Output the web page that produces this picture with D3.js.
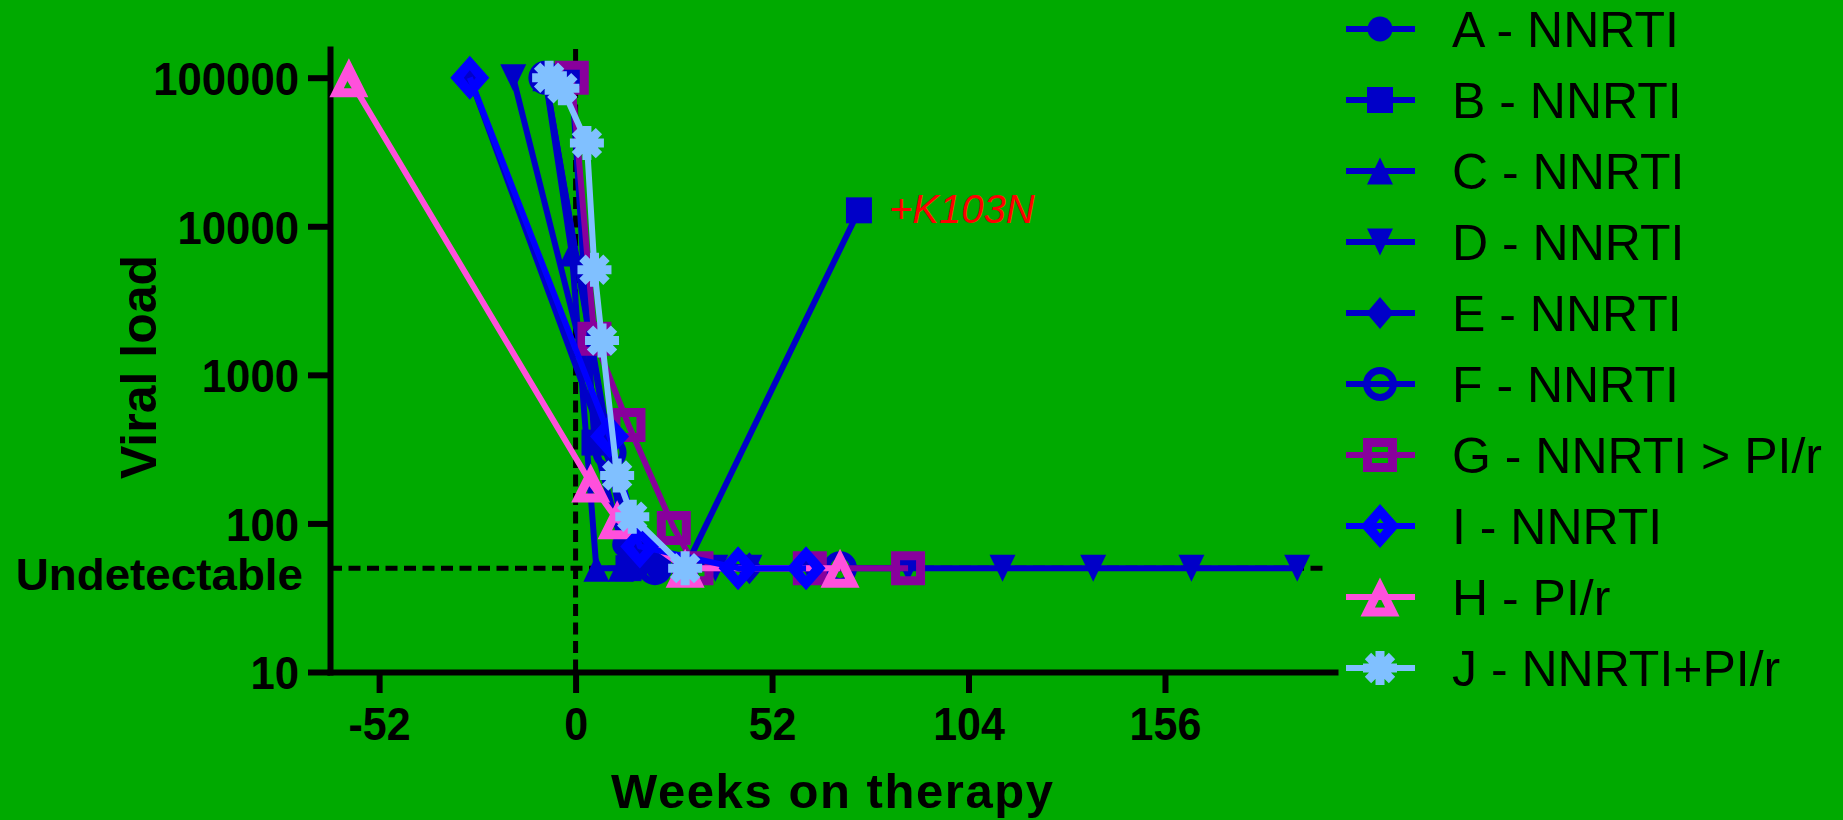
<!DOCTYPE html>
<html>
<head>
<meta charset="utf-8">
<script src="https://cdn.jsdelivr.net/npm/d3@7"></script>
<style>
  html, body { margin: 0; padding: 0; background: #00AA00; }
  svg { display: block; }
  text { font-family: "Liberation Sans", Arial, Helvetica, sans-serif; }
</style>
</head>
<body>
<svg id="chart" width="1843" height="820"></svg>
<script>
// ---- Data: weeks on therapy and viral load per patient ----
const weeksA = [-8, 8, 13, 16, 22];
const loadA  = [100000, 450, 72, 50, 50];
const weeksB = [-1, 5, 14, 29, 75];
const loadB  = [100000, 350, 50, 50, 12800];
const weeksC = [-8, -1, 5.5, 12];
const loadC  = [100000, 6600, 50, 50];
const weeksD = [-16.5, 8, 15, 37, 46, 62, 88, 113, 137, 163, 191];
const loadD  = [100000, 330, 50, 50, 50, 50, 50, 50, 50, 50, 50];
const weeksE = [-28, 7, 19, 46];
const loadE  = [100000, 380, 60, 50];
const weeksF = [-8, 9, 15, 21, 70];
const loadF  = [100000, 300, 70, 50, 50];
const weeksG = [-1, 5, 14, 26, 32, 62, 88];
const loadG  = [100000, 1750, 460, 93, 50, 50, 50];
const weeksH = [-60, 4, 11, 29, 70];
const loadH  = [100000, 187, 106, 50, 50];
const weeksI = [-28, 9, 17, 43, 61];
const loadI  = [100000, 385, 70, 50, 50];
const weeksJ = [-7, -3.5, 3, 5, 7, 11, 15, 29];
const loadJ  = [100000, 85000, 36300, 5100, 1700, 210, 111, 50];

const seriesKeys   = ["A", "B", "C", "D", "E", "F", "G", "H", "I", "J"];
const legendKeys   = ["A", "B", "C", "D", "E", "F", "G", "I", "H", "J"];
const legendLabels = ["A - NNRTI", "B - NNRTI", "C - NNRTI", "D - NNRTI", "E - NNRTI",
                      "F - NNRTI", "G - NNRTI > PI/r", "I - NNRTI", "H - PI/r", "J - NNRTI+PI/r"];
const xTicks = [-52, 0, 52, 104, 156];
const yTicks = [10, 100, 1000, 10000, 100000];
const undetectable = 50;
const mutationLabel = "+K103N";

// ---- Per-series appearance ----
const seriesStyle = {
  A: { color: "#0000C8", marker: "circle" },
  B: { color: "#0000C8", marker: "square" },
  C: { color: "#0000C8", marker: "triUp" },
  D: { color: "#0000C8", marker: "triDown" },
  E: { color: "#0000C8", marker: "diamond" },
  F: { color: "#0000C8", marker: "openCircle" },
  G: { color: "#88009C", marker: "openSquare" },
  H: { color: "#FF50DC", marker: "openTriangle" },
  I: { color: "#0000FF", marker: "openDiamond" },
  J: { color: "#80C0FF", marker: "asterisk" }
};

const dataTable = {
  A: d3.zip(weeksA, loadA), B: d3.zip(weeksB, loadB), C: d3.zip(weeksC, loadC),
  D: d3.zip(weeksD, loadD), E: d3.zip(weeksE, loadE), F: d3.zip(weeksF, loadF),
  G: d3.zip(weeksG, loadG), H: d3.zip(weeksH, loadH), I: d3.zip(weeksI, loadI),
  J: d3.zip(weeksJ, loadJ)
};

// ---- Marker outlines, centred on (0,0) ----
function poly(pts) { return "M" + pts.map(p => p[0].toFixed(2) + "," + p[1].toFixed(2)).join("L") + "Z"; }
function circ(r, sweep) {
  const s = sweep === undefined ? 0 : sweep;
  return `M${-r},0A${r},${r} 0 1,${s} ${r},0A${r},${r} 0 1,${s} ${-r},0Z`;
}
function markerPath(type) {
  switch (type) {
    case "circle": return circ(12.5);
    case "square": return poly([[-13,-13],[13,-13],[13,13],[-13,13]]);
    case "triUp": return poly([[0,-13.5],[13,13.5],[-13,13.5]]);
    case "triDown": return poly([[0,13.5],[13,-13.5],[-13,-13.5]]);
    case "diamond": return poly([[0,-16],[13.5,0],[0,16],[-13.5,0]]);
    case "openCircle": return circ(17) + circ(10);
    case "openSquare": return poly([[-17,-17],[17,-17],[17,17],[-17,17]]) + poly([[-8,-8],[8,-8],[8,8],[-8,8]]);
    case "openDiamond": return poly([[0,-22],[19.5,0],[0,22],[-19.5,0]]) + poly([[0,-7.5],[6,0],[0,7.5],[-6,0]]);
    case "openTriangle": {
      const outer = [[0,-19.5],[19.5,19.5],[-19.5,19.5]];
      const cy = 7.45, k = 0.26;
      const inner = outer.map(p => [p[0]*k, cy + (p[1]-cy)*k]);
      return poly(outer) + poly(inner);
    }
    case "asterisk": {
      // disc plus four crossing bars, all wound clockwise so they merge
      let d = circ(12, 1);
      const hw = 4.5, hl = 17;
      [0, 45, 90, 135].forEach(a => {
        const r = a * Math.PI / 180, c = Math.cos(r), s = Math.sin(r);
        const pts = [[-hl,-hw],[hl,-hw],[hl,hw],[-hl,hw]].map(p => [p[0]*c - p[1]*s, p[0]*s + p[1]*c]);
        d += poly(pts);
      });
      return d;
    }
  }
}
function markerFillRule(type) { return type === "asterisk" ? "nonzero" : "evenodd"; }

// ---- Scales ----
const svg = d3.select("#chart");
const W = 1843, H = 820;
svg.append("rect").attr("width", W).attr("height", H).attr("fill", "#00AA00");

const x = d3.scaleLinear().domain([-65, 201]).range([330, 1335]);
const y = d3.scaleLog().domain([10, 156000]).range([672, 49]);

// ---- Reference lines ----
const dash = "12,6.5";
svg.append("line")
  .attr("x1", x.range()[0]).attr("x2", 1326)
  .attr("y1", y(undetectable)).attr("y2", y(undetectable))
  .attr("stroke", "#000").attr("stroke-width", 5).attr("stroke-dasharray", dash);
svg.append("line")
  .attr("x1", x(0)).attr("x2", x(0))
  .attr("y1", y.range()[1]).attr("y2", y.range()[0])
  .attr("stroke", "#000").attr("stroke-width", 5).attr("stroke-dasharray", dash);

// ---- Axes ----
const yAxis = svg.append("g")
  .attr("transform", `translate(${x.range()[0]},0)`)
  .call(d3.axisLeft(y).tickValues(yTicks).tickSize(22).tickSizeOuter(0).tickFormat(d => String(d)));
yAxis.select(".domain").attr("stroke", "#000").attr("stroke-width", 6).attr("stroke-linecap", "square");
yAxis.selectAll(".tick line").attr("stroke", "#000").attr("stroke-width", 6);
yAxis.selectAll(".tick text")
  .attr("x", -31 / 0.93).attr("dy", "0.356em")
  .attr("transform", "scale(0.93,1)")
  .attr("text-anchor", "end")
  .attr("fill", "#000")
  .style("font-size", "47px").style("font-weight", "bold")
  .style("font-family", "'Liberation Sans', Arial, sans-serif");

const xAxis = svg.append("g")
  .attr("transform", `translate(0,${y.range()[0]})`)
  .call(d3.axisBottom(x).tickValues(xTicks).tickSize(21).tickSizeOuter(0).tickFormat(d => String(d)));
xAxis.select(".domain").attr("stroke", "#000").attr("stroke-width", 6).attr("stroke-linecap", "square");
xAxis.selectAll(".tick line").attr("stroke", "#000").attr("stroke-width", 6);
xAxis.selectAll(".tick text")
  .attr("y", 68).attr("dy", 0)
  .attr("transform", "scale(0.915,1)")
  .attr("text-anchor", "middle")
  .attr("fill", "#000")
  .style("font-size", "47px").style("font-weight", "bold")
  .style("font-family", "'Liberation Sans', Arial, sans-serif");

// "Undetectable" label on the limit line
svg.append("text")
  .attr("transform", `translate(303,${y(undetectable) + 22}) scale(1.04,1)`)
  .attr("text-anchor", "end")
  .style("font-size", "44px").style("font-weight", "bold")
  .text("Undetectable");

// Axis titles
svg.append("text")
  .attr("transform", "translate(156,367) rotate(-90)")
  .attr("text-anchor", "middle")
  .style("font-size", "50px").style("font-weight", "bold")
  .text("Viral load");
svg.append("text")
  .attr("x", 832).attr("y", 808)
  .attr("text-anchor", "middle")
  .attr("textLength", 442).attr("lengthAdjust", "spacing")
  .style("font-size", "49px").style("font-weight", "bold")
  .text("Weeks on therapy");

// ---- Series: line then markers, one patient at a time ----
const line = d3.line().x(d => x(d[0])).y(d => y(d[1]));
const plot = svg.append("g");
seriesKeys.forEach(k => {
  const st = seriesStyle[k];
  const pts = dataTable[k];
  const g = plot.append("g").attr("class", "series-" + k);
  g.append("path").datum(pts)
    .attr("d", line)
    .attr("fill", "none")
    .attr("stroke", st.color)
    .attr("stroke-width", 6)
    .attr("stroke-linejoin", "round");
  g.selectAll("path.mk").data(pts).join("path")
    .attr("class", "mk")
    .attr("transform", d => `translate(${x(d[0])},${y(d[1])})`)
    .attr("d", markerPath(st.marker))
    .attr("fill", st.color)
    .attr("fill-rule", markerFillRule(st.marker));
});

// Resistance mutation note beside patient B's rebound
const lastB = dataTable.B[dataTable.B.length - 1];
svg.append("text")
  .attr("x", x(lastB[0]) + 30).attr("y", y(lastB[1]) + 13)
  .attr("fill", "#FF0000")
  .style("font-size", "40px").style("font-style", "italic")
  .text(mutationLabel);

// ---- Legend ----
const legend = svg.append("g");
legendKeys.forEach((k, i) => {
  const st = seriesStyle[k];
  const row = legend.append("g").attr("transform", `translate(0,${29 + 71 * i})`);
  row.append("line")
    .attr("x1", 1346).attr("x2", 1415).attr("y1", 0).attr("y2", 0)
    .attr("stroke", st.color).attr("stroke-width", 6);
  row.append("path")
    .attr("transform", "translate(1380,0)")
    .attr("d", markerPath(st.marker))
    .attr("fill", st.color)
    .attr("fill-rule", markerFillRule(st.marker));
  row.append("text")
    .attr("x", 1452).attr("y", 18)
    .attr("fill", "#000")
    .style("font-size", "50px")
    .text(legendLabels[i]);
});
</script>
</body>
</html>
